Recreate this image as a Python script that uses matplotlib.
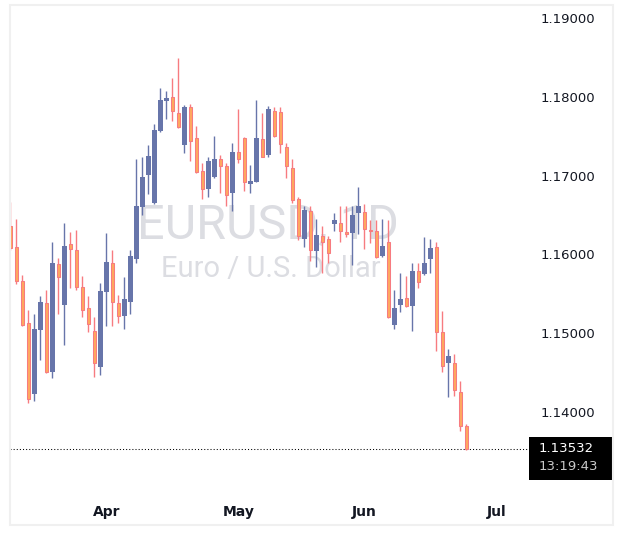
import numpy as np
import matplotlib
matplotlib.use("Agg")
import matplotlib.pyplot as plt
from matplotlib.patches import Rectangle

# daily EURUSD candles (oldest first)
opens = [1.1636, 1.1609, 1.1566, 1.1513, 1.1423, 1.1504, 1.1538, 1.1451, 1.1588, 1.1536,
         1.1613, 1.1606, 1.1559, 1.1532, 1.1503, 1.1457, 1.1552, 1.1589, 1.1538, 1.1522,
         1.1540, 1.1594, 1.1660, 1.1701, 1.1665, 1.1757, 1.1795, 1.1800, 1.1779, 1.1739,
         1.1787, 1.1748, 1.1706, 1.1683, 1.1698, 1.1721, 1.1712, 1.1678, 1.1730, 1.1748,
         1.1689, 1.1692, 1.1746, 1.1726, 1.1782, 1.1781, 1.1736, 1.1710, 1.1670, 1.1620,
         1.1655, 1.1604, 1.1623, 1.1620, 1.1639, 1.1640, 1.1628, 1.1627, 1.1653, 1.1654,
         1.1631, 1.1630, 1.1598, 1.1616, 1.1510, 1.1536, 1.1545, 1.1535, 1.1579, 1.1575,
         1.1594, 1.1609, 1.1502, 1.1462, 1.1462, 1.1425, 1.1382]
highs = [1.1667, 1.1645, 1.1574, 1.1529, 1.1524, 1.1547, 1.1555, 1.1616, 1.1595, 1.1640,
         1.1628, 1.1631, 1.1573, 1.1547, 1.1521, 1.1564, 1.1627, 1.1606, 1.1548, 1.1571,
         1.1606, 1.1721, 1.1724, 1.1739, 1.1765, 1.1811, 1.1807, 1.1824, 1.1849, 1.1790,
         1.1791, 1.1763, 1.1716, 1.1724, 1.1750, 1.1726, 1.1716, 1.1741, 1.1785, 1.1749,
         1.1713, 1.1796, 1.1779, 1.1788, 1.1787, 1.1787, 1.1741, 1.1721, 1.1673, 1.1661,
         1.1661, 1.1645, 1.1636, 1.1623, 1.1653, 1.1661, 1.1661, 1.1661, 1.1686, 1.1664,
         1.1644, 1.1644, 1.1645, 1.1644, 1.1555, 1.1576, 1.1573, 1.1589, 1.1589, 1.1622,
         1.1620, 1.1616, 1.1528, 1.1480, 1.1474, 1.1439, 1.1385]
lows = [1.1606, 1.1562, 1.1509, 1.1411, 1.1414, 1.1466, 1.1450, 1.1443, 1.1524, 1.1485,
        1.1557, 1.1555, 1.1521, 1.1502, 1.1444, 1.1447, 1.1509, 1.1509, 1.1513, 1.1505,
        1.1524, 1.1589, 1.1650, 1.1677, 1.1664, 1.1755, 1.1772, 1.1769, 1.1761, 1.1729,
        1.1719, 1.1703, 1.1670, 1.1673, 1.1697, 1.1678, 1.1661, 1.1655, 1.1716, 1.1680,
        1.1678, 1.1692, 1.1724, 1.1724, 1.1749, 1.1729, 1.1697, 1.1665, 1.1618, 1.1609,
        1.1592, 1.1584, 1.1576, 1.1589, 1.1630, 1.1616, 1.1622, 1.1587, 1.1626, 1.1607,
        1.1614, 1.1595, 1.1597, 1.1519, 1.1505, 1.1527, 1.1533, 1.1503, 1.1557, 1.1574,
        1.1576, 1.1477, 1.1451, 1.1419, 1.1420, 1.1376, 1.13520]
closes = [1.1608, 1.1566, 1.1510, 1.1417, 1.1505, 1.1540, 1.1451, 1.1589, 1.1571, 1.1611,
          1.1607, 1.1559, 1.1529, 1.1512, 1.1462, 1.1554, 1.1590, 1.1540, 1.1522, 1.1543,
          1.1598, 1.1661, 1.1698, 1.1725, 1.1758, 1.1796, 1.1798, 1.1782, 1.1762, 1.1787,
          1.1744, 1.1705, 1.1683, 1.1719, 1.1721, 1.1712, 1.1675, 1.1730, 1.1721, 1.1692,
          1.1693, 1.1748, 1.1724, 1.1785, 1.1750, 1.1740, 1.1712, 1.1669, 1.1623, 1.1656,
          1.1606, 1.1625, 1.1616, 1.1602, 1.1644, 1.1630, 1.1626, 1.1650, 1.1661, 1.1632,
          1.1630, 1.1597, 1.1611, 1.1521, 1.1532, 1.1543, 1.1535, 1.1579, 1.1565, 1.1589,
          1.1608, 1.1502, 1.1458, 1.1471, 1.1428, 1.1382, 1.13532]

month_labels = ["Apr", "May", "Jun", "Jul"]
month_bars = [16, 38, 59, 81]          # bar index where each month label sits
price_ticks = [1.14, 1.15, 1.16, 1.17, 1.18, 1.19]
last_time = "13:19:43"

BULL = "#6775aa"
BEAR_FILL = "#ffa85f"
BEAR_EDGE = "#f77b80"
TEXT = "#131722"
WATERMARK = "#dcdde2"

W, H = 623, 535
fig = plt.figure(figsize=(W / 100, H / 100), dpi=100)
fig.patch.set_facecolor("white")

# pane: x 10..528 px, y 5..490 px
ax = fig.add_axes([10 / W, (H - 490) / H, 518 / W, 485 / H])
ax.set_facecolor("white")
for s in ax.spines.values():
    s.set_visible(False)

o = np.array(opens)
h = np.array(highs)
l = np.array(lows)
c = np.array(closes)
x = np.arange(len(o))
up = c >= o
dn = ~up

ax.vlines(x[up], l[up], h[up], color=BULL, lw=1, zorder=2)
ax.vlines(x[dn], l[dn], h[dn], color=BEAR_EDGE, lw=1, zorder=2)
ax.bar(x[up], np.maximum(c[up] - o[up], 0.00003), bottom=o[up], width=0.7,
       color=BULL, lw=0, zorder=3)
ax.bar(x[dn], np.maximum(o[dn] - c[dn], 0.00003), bottom=c[dn], width=0.62,
       facecolor=BEAR_FILL, edgecolor=BEAR_EDGE, lw=0.75, zorder=3)

ax.set_xlim(-0.08, 86.25)
ax.set_ylim(1.13010, 1.19165)

# watermark behind the candles
ax.text(0.498, 0.545, "EURUSD, 1D", transform=ax.transAxes, ha="center", va="center",
        fontsize=35, color=WATERMARK, family="Roboto", zorder=0)
ax.text(0.503, 0.455, "Euro / U.S. Dollar", transform=ax.transAxes, ha="center", va="center",
        fontsize=21, color=WATERMARK, family="Roboto", zorder=0)

ax.yaxis.tick_right()
ax.set_yticks(price_ticks)
ax.set_yticklabels([f"{p:.5f}" for p in price_ticks])
ax.tick_params(axis="y", length=0, pad=9, labelsize=9.5, labelcolor=TEXT)
ax.set_xticks(month_bars)
ax.set_xticklabels(month_labels)
ax.tick_params(axis="x", length=0, pad=11, labelsize=10, labelcolor=TEXT)
for t in ax.get_xticklabels():
    t.set_fontweight("bold")

# last price line + label
last = closes[-1]
ax.axhline(last, color="black", lw=0.75, ls=(0, (1, 2)), zorder=1)
ypix = ax.transData.transform((0, last))[1]
fig.add_artist(Rectangle((529 / W, (ypix - 31) / H), 84 / W, 43 / H,
                         transform=fig.transFigure, facecolor="black", lw=0))
fig.text(539 / W, ypix / H, f"{last:.5f}", color="white", fontsize=9.5,
         va="center", ha="left")
fig.text(539 / W, (ypix - 18) / H, last_time, color="#c9c9c9", fontsize=9.5,
         va="center", ha="left")

# light frame around the whole widget
fig.add_artist(Rectangle((10 / W, 10 / H), 603 / W, 520 / H, transform=fig.transFigure,
                         fill=False, edgecolor="#f0f0f0", lw=1.5))

fig.savefig("out.png", dpi=100)
